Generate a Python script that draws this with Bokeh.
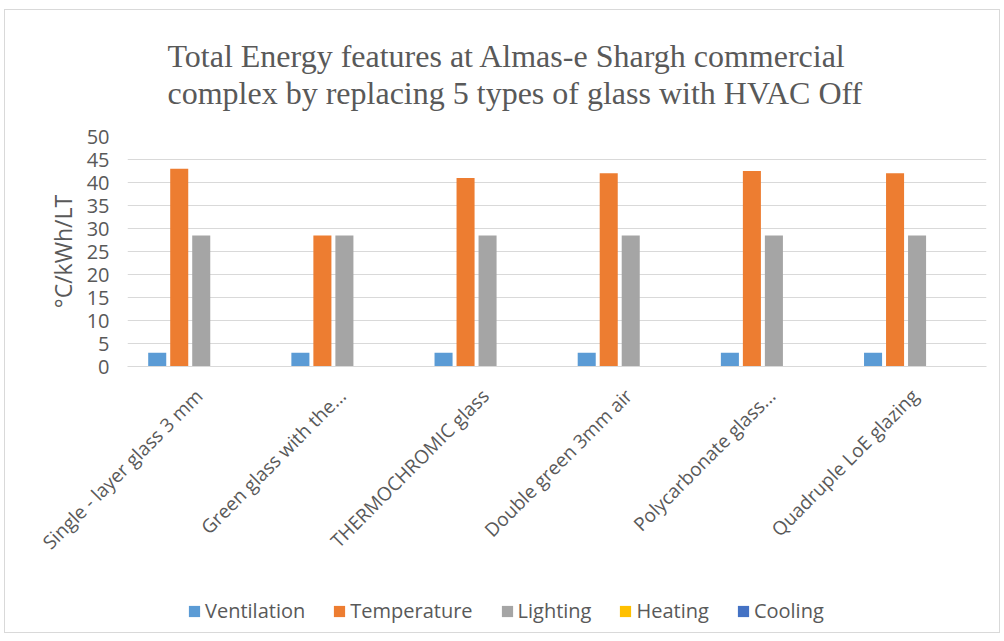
from bokeh.plotting import figure
from bokeh.models import FactorRange, Range1d, FixedTicker, Legend, LegendItem
from bokeh.layouts import column
from bokeh.transform import dodge
from bokeh.embed import file_html
from bokeh.resources import INLINE
import math

categories = ["Single - layer glass 3 mm", "Green glass with the...", "THERMOCHROMIC glass",
              "Double green 3mm air", "Polycarbonate glass...", "Quadruple LoE glazing"]
series_names = ["Ventilation", "Temperature", "Lighting", "Heating", "Cooling"]
ventilation = [3, 3, 3, 3, 3, 3]
temperature = [43, 28.5, 41, 42, 42.5, 42]
lighting = [28.5, 28.5, 28.5, 28.5, 28.5, 28.5]
heating = [0, 0, 0, 0, 0, 0]
cooling = [0, 0, 0, 0, 0, 0]
y_ticks = [0, 5, 10, 15, 20, 25, 30, 35, 40, 45, 50]
title_lines = ["Total Energy features at Almas-e Shargh commercial",
               "complex by replacing 5 types of glass with HVAC Off"]
colors = ["#5B9BD5", "#ED7D31", "#A5A5A5", "#FFC000", "#4472C4"]

data = dict(cat=categories, Ventilation=ventilation, Temperature=temperature,
            Lighting=lighting, Heating=heating, Cooling=cooling)

FONT = "Open Sans"
TXT = "#595959"

p = figure(x_range=FactorRange(factors=categories), y_range=Range1d(0, 50),
           frame_width=859, frame_height=230,
           output_backend="svg", toolbar_location=None,
           min_border_left=122, min_border_right=13, min_border_top=126, min_border_bottom=266)

p.title.text = "\n".join(title_lines)
p.title.align = "left"
p.title.offset = 40
p.title.text_font = "Liberation Serif"
p.title.text_font_size = "32px"
p.title.text_font_style = "normal"
p.title.text_color = TXT
p.title.text_line_height = 1.02
p.title.standoff = 51

step = 0.1537
width = 0.126
for i, (name, col) in enumerate(zip(series_names, colors)):
    off = (i - 2) * step + 0.015
    p.vbar(x=dodge("cat", off, range=p.x_range), top=name, width=width, source=data,
           fill_color=col, line_color=None)

p.yaxis.ticker = FixedTicker(ticks=y_ticks)
p.yaxis.axis_label = "°C/kWh/LT"
p.yaxis.axis_label_text_font = FONT
p.yaxis.axis_label_text_font_size = "23px"
p.yaxis.axis_label_text_font_style = "normal"
p.yaxis.axis_label_text_color = TXT
p.yaxis.axis_label_standoff = 5
p.yaxis.major_label_text_font = FONT
p.yaxis.major_label_text_font_size = "20px"
p.yaxis.major_label_text_color = TXT
p.yaxis.axis_line_color = None
p.yaxis.major_tick_line_color = None
p.yaxis.minor_tick_line_color = None
p.yaxis.major_label_standoff = 12

p.xaxis.major_label_orientation = math.pi / 4
p.xaxis.major_label_text_font = FONT
p.xaxis.major_label_text_font_size = "19px"
p.xaxis.major_label_text_color = TXT
p.xaxis.axis_line_color = "#D9D9D9"
p.xaxis.axis_line_width = 1
p.xaxis.major_tick_line_color = None
p.xaxis.minor_tick_line_color = None
p.xaxis.major_label_standoff = 20

p.xgrid.grid_line_color = None
p.ygrid.grid_line_color = "#D9D9D9"
p.outline_line_color = None

# legend strip, overlaid on the bottom of the chart (its series renderers are hidden;
# only their legend swatches show)
p2 = figure(x_range=FactorRange(factors=categories), width=994, height=56, min_border=0,
            x_axis_type=None, y_axis_type=None, output_backend="svg", toolbar_location=None)
p2.grid.visible = False
p2.outline_line_color = None
p2.background_fill_alpha = 0
p2.border_fill_alpha = 0
leg_renderers = []
for i, (name, col) in enumerate(zip(series_names, colors)):
    r = p2.vbar(x=dodge("cat", (i - 2) * step, range=p2.x_range), top=name, width=width,
                source=data, fill_color=col, line_color=None, visible=False)
    leg_renderers.append(r)
legend = Legend(items=[LegendItem(label=n, renderers=[r]) for n, r in zip(series_names, leg_renderers)],
                orientation="horizontal", location=(60, 8),
                label_text_font=FONT, label_text_font_size="20px", label_text_color=TXT,
                glyph_width=14, glyph_height=14, spacing=27, label_standoff=4,
                border_line_color=None, background_fill_alpha=0, margin=0, padding=5,
                inactive_fill_alpha=0, click_policy="none")
p2.add_layout(legend)
p2.styles = {"margin-top": "-56px"}

layout = column(p, p2, spacing=0,
                styles={"border": "1px solid #D9D9D9", "margin-left": "4px", "margin-top": "9px"})

open("out.html", "w").write(file_html(layout, INLINE))
